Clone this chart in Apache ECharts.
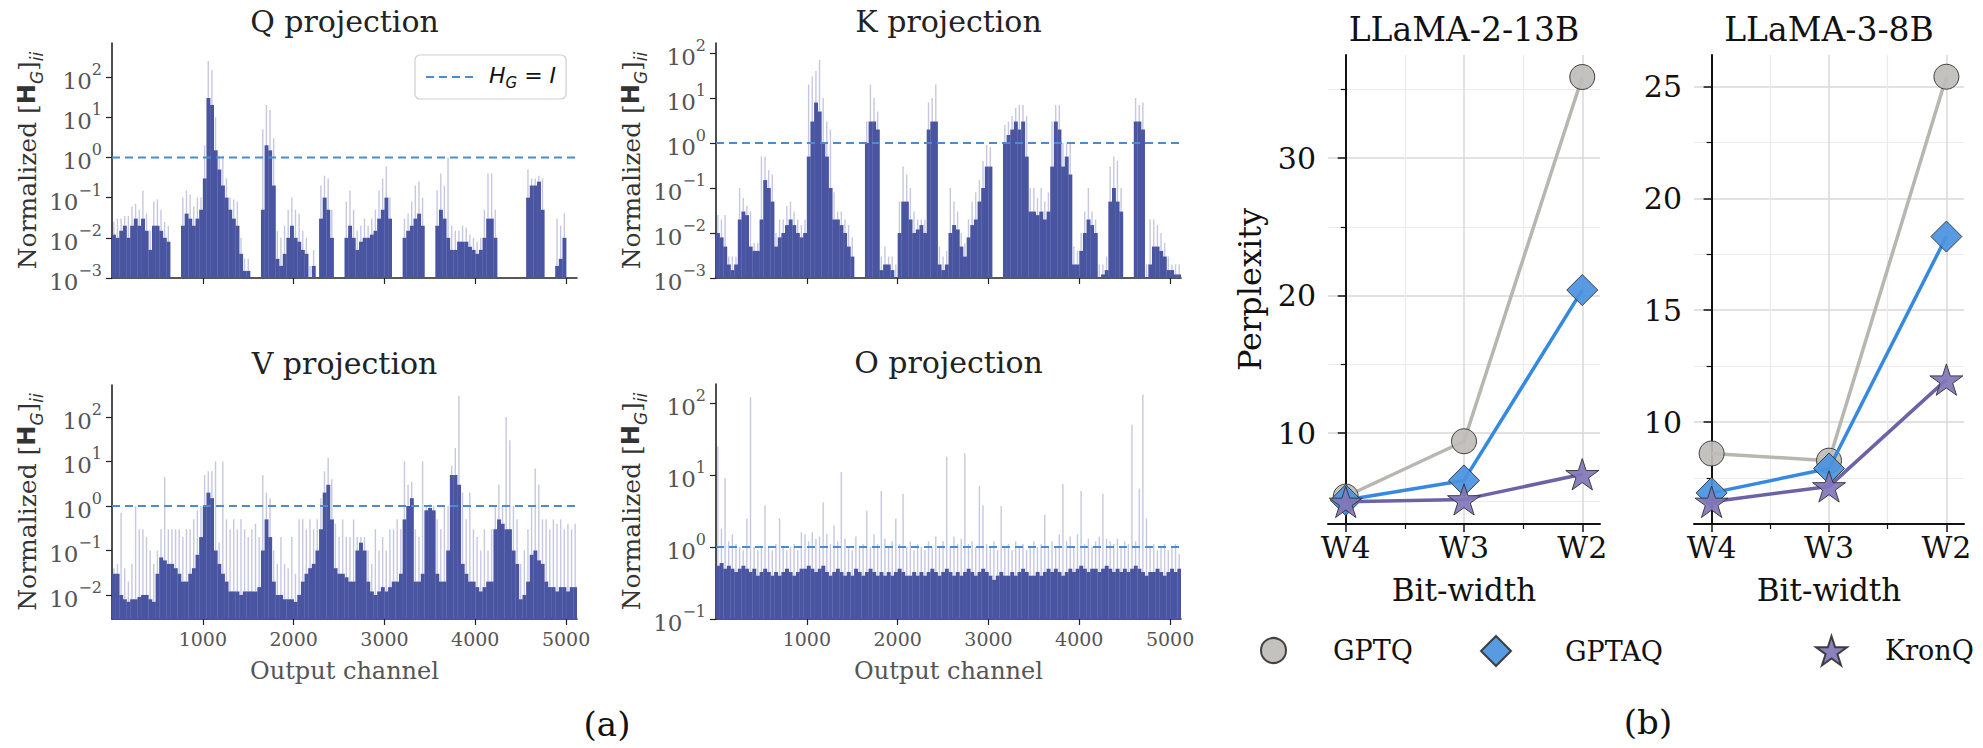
<!DOCTYPE html>
<html>
<head>
<meta charset="utf-8">
<title>Normalized H_G diagonal / perplexity</title>
<script src="https://cdn.jsdelivr.net/npm/echarts@6.0.0/dist/echarts.min.js"></script>
<style>
  html, body { margin: 0; padding: 0; background: #fff; }
  #main { width: 1983px; height: 748px; }
</style>
</head>
<body>
<div id="main"></div>
<script>
// every bar covers binWidth output channels (5120 channels -> 128 bars)
var binWidth = 40;

// dense level (body) and tallest spike (peak) per bar
var qBody = [
  0.012, 0.01, 0.015, 0.02, 0.01, 0.02, 0.03, 0.02, 0.03, 0.015,
  0.005, 0.02, 0.02, 0.015, 0.01, 0.008, 0, 0, 0, 0.02,
  0.04, 0.03, 0.02, 0.03, 0.05, 0.3, 30, 20, 1.5, 0.5,
  0.2, 0.1, 0.05, 0.03, 0.02, 0.004, 0.0015, 0.0015, 0, 0,
  0, 0.05, 2, 1.5, 0.2, 0.003, 0.002, 0.004, 0.01, 0.02,
  0.01, 0.008, 0.005, 0.004, 0, 0.002, 0, 0.03, 0.1, 0.05,
  0.01, 0, 0, 0, 0.01, 0.02, 0.01, 0.005, 0.008, 0.01,
  0.01, 0.012, 0.015, 0.03, 0.05, 0.1, 0.03, 0, 0, 0,
  0.01, 0.015, 0.02, 0.03, 0.04, 0.02, 0, 0, 0, 0.02,
  0.05, 0.03, 0.01, 0.005, 0.005, 0.008, 0.008, 0.008, 0.006, 0.005,
  0.004, 0.005, 0.01, 0.03, 0.03, 0.01, 0, 0, 0, 0,
  0, 0, 0, 0, 0.1, 0.2, 0.2, 0.25, 0.05, 0,
  0, 0, 0.002, 0.003, 0.01, 0, 0, 0
];
var qPeak = [
  0.025, 0.03, 0.03, 0.035, 0.035, 0.06, 0.07, 0.05, 0.15, 0.04,
  0.015, 0.08, 0.09, 0.05, 0.025, 0.02, 0, 0, 0, 0.1,
  0.15, 0.12, 0.06, 0.1, 0.1, 2, 250, 150, 10, 1.1,
  1.1, 0.3, 0.1, 0.09, 0.08, 0.01, 0.003, 0.003, 0, 0,
  0, 5, 20, 15, 3, 0.015, 0.01, 0.02, 0.05, 0.1,
  0.05, 0.04, 0.015, 0.01, 0.002, 0.005, 0, 0.2, 0.35, 0.3,
  0.05, 0, 0, 0, 0.08, 0.15, 0.05, 0.015, 0.02, 0.03,
  0.02, 0.03, 0.05, 0.15, 0.3, 0.6, 0.1, 0, 0, 0,
  0.03, 0.04, 0.08, 0.2, 0.25, 0.1, 0, 0, 0, 0.15,
  0.4, 0.2, 1.0, 0.02, 0.015, 0.015, 0.02, 0.018, 0.012, 0.01,
  0.008, 0.01, 0.05, 0.4, 0.4, 0.05, 0, 0, 0, 0,
  0, 0, 0, 0, 0.5, 0.3, 0.3, 0.35, 0.3, 0,
  0, 0, 0.03, 0.02, 0.04, 0, 0, 0
];
var kBody = [
  0.01, 0.008, 0.005, 0.002, 0.0015, 0.002, 0.02, 0.03, 0.025, 0.005,
  0.004, 0.004, 0.02, 0.15, 0.1, 0.05, 0.005, 0.008, 0.01, 0.015,
  0.02, 0.015, 0.01, 0.008, 0.01, 0.5, 3, 8, 5, 1,
  0.5, 0.1, 0.02, 0.02, 0.015, 0.01, 0.005, 0.003, 0, 0,
  0, 1, 3, 3, 2, 0.0015, 0.002, 0.002, 0.0015, 0,
  0.01, 0.05, 0.05, 0.02, 0.01, 0.012, 0.015, 0.01, 2, 3,
  3, 0.002, 0.0015, 0.002, 0.01, 0.015, 0.012, 0.005, 0.003, 0.008,
  0.015, 0.02, 0.05, 0.1, 0.3, 0.3, 0, 0, 0, 1,
  1.5, 2, 3, 2, 3, 0.5, 0.03, 0.03, 0.025, 0.03,
  0.02, 0.03, 0.3, 3, 2, 0.3, 0.5, 0.2, 0.002, 0.002,
  0.004, 0.01, 0.02, 0.015, 0.01, 0, 0.0012, 0.0015, 0.05, 0.1,
  0.05, 0.03, 0, 0, 0, 3, 3, 2, 0, 0.002,
  0.005, 0.005, 0.004, 0.003, 0.0015, 0.0015, 0.0012, 0.0012
];
var kPeak = [
  0.025, 0.02, 0.025, 0.003, 0.003, 0.003, 0.1, 0.06, 0.04, 0.03,
  0.006, 0.006, 0.5, 0.5, 0.25, 0.2, 0.01, 0.02, 0.02, 0.04,
  0.05, 0.03, 0.02, 0.015, 0.02, 20, 30, 40, 70, 10,
  3, 2, 0.08, 0.03, 0.03, 0.02, 0.015, 0.008, 0, 0,
  0, 3, 20, 10, 5, 0.003, 0.005, 0.003, 0.003, 0.002,
  0.05, 0.3, 0.2, 0.1, 0.03, 0.02, 0.02, 0.02, 8, 10,
  20, 0.005, 0.003, 0.004, 0.1, 0.05, 0.03, 0.01, 0.006, 0.02,
  0.05, 0.08, 0.15, 0.4, 0.9, 0.8, 0, 0, 0, 2.5,
  3, 4, 6, 7, 7, 4, 0.1, 0.1, 0.06, 0.1,
  0.05, 0.08, 3, 7, 7, 1, 1, 1, 0.005, 0.004,
  0.01, 0.03, 0.1, 0.03, 0.02, 0.002, 0.002, 0.003, 0.3, 0.5,
  0.4, 0.1, 0, 0, 0, 10, 7, 8, 0.002, 0.02,
  0.02, 0.015, 0.01, 0.006, 0.003, 0.002, 0.002, 0.002
];
var vBody = [
  0.03, 0.03, 0.01, 0.008, 0.007, 0.008, 0.008, 0.009, 0.01, 0.01,
  0.008, 0.007, 0.03, 0.07, 0.06, 0.05, 0.05, 0.04, 0.03, 0.02,
  0.02, 0.03, 0.04, 0.08, 0.2, 1, 2, 1.5, 0.1, 0.05,
  0.03, 0.02, 0.012, 0.012, 0.012, 0.01, 0.012, 0.012, 0.012, 0.012,
  0.015, 0.1, 0.5, 0.2, 0.02, 0.01, 0.01, 0.008, 0.008, 0.008,
  0.007, 0.01, 0.02, 0.03, 0.04, 0.05, 0.1, 0.3, 2, 3,
  0.5, 0.04, 0.03, 0.03, 0.025, 0.02, 0.02, 0.1, 0.15, 0.1,
  0.02, 0.012, 0.01, 0.012, 0.015, 0.012, 0.015, 0.02, 0.02, 0.03,
  0.5, 1, 1.5, 0.02, 0.02, 0.03, 0.8, 0.9, 0.8, 0.03,
  0.02, 0.02, 0.1, 5, 5, 3, 0.05, 0.03, 0.02, 0.02,
  0.015, 0.012, 0.015, 0.02, 0.02, 0.3, 0.5, 0.4, 0.3, 0.3,
  0.1, 0.05, 0.008, 0.01, 0.02, 0.08, 0.1, 0.06, 0.05, 0.02,
  0.015, 0.015, 0.012, 0.015, 0.015, 0.012, 0.015, 0.015
];
var vPeak = [
  0.04, 0.05, 0.7, 0.04, 0.02, 0.05, 1, 0.3, 0.3, 0.2,
  0.1, 0.05, 0.1, 0.3, 4.5, 0.3, 0.3, 0.3, 0.3, 0.2,
  0.3, 0.3, 0.5, 0.8, 1, 5, 6, 6, 10, 0.15,
  10, 0.5, 0.3, 0.5, 0.3, 0.5, 0.3, 0.2, 0.3, 0.4,
  0.2, 5, 2, 1.5, 0.1, 0.05, 0.2, 0.05, 0.04, 0.2,
  0.03, 0.5, 0.5, 0.3, 0.5, 0.3, 0.5, 1.5, 6, 12,
  4, 0.4, 0.2, 0.5, 0.2, 0.2, 0.5, 0.2, 0.2, 0.2,
  0.1, 0.05, 0.3, 0.1, 0.2, 0.1, 0.3, 0.3, 0.5, 0.3,
  10, 3, 3.5, 0.3, 0.2, 10, 1, 1.1, 1, 0.5,
  0.3, 1, 1, 8, 20, 300, 2, 0.5, 2, 0.3,
  0.2, 0.1, 0.3, 0.1, 0.3, 1, 3, 1, 100, 30,
  1, 0.5, 0.05, 0.1, 0.3, 1, 7, 3, 0.5, 0.5,
  0.3, 0.5, 0.4, 0.5, 0.3, 0.4, 0.3, 0.4
];
var oBody = [
  0.55, 0.6, 0.5, 0.55, 0.5, 0.45, 0.5, 0.55, 0.5, 0.45,
  0.5, 0.4, 0.45, 0.5, 0.45, 0.4, 0.45, 0.4, 0.45, 0.5,
  0.45, 0.4, 0.45, 0.5, 0.5, 0.55, 0.5, 0.45, 0.5, 0.55,
  0.45, 0.4, 0.45, 0.5, 0.45, 0.4, 0.45, 0.4, 0.5, 0.45,
  0.4, 0.45, 0.5, 0.45, 0.4, 0.45, 0.4, 0.45, 0.4, 0.45,
  0.5, 0.45, 0.4, 0.4, 0.45, 0.4, 0.45, 0.4, 0.45, 0.5,
  0.45, 0.4, 0.45, 0.5, 0.45, 0.4, 0.45, 0.4, 0.45, 0.5,
  0.45, 0.4, 0.45, 0.5, 0.45, 0.4, 0.35, 0.4, 0.45, 0.4,
  0.4, 0.45, 0.4, 0.45, 0.5, 0.45, 0.4, 0.4, 0.45, 0.4,
  0.45, 0.5, 0.45, 0.5, 0.45, 0.4, 0.45, 0.5, 0.45, 0.5,
  0.55, 0.5, 0.45, 0.5, 0.5, 0.45, 0.5, 0.55, 0.5, 0.45,
  0.5, 0.45, 0.5, 0.45, 0.5, 0.55, 0.5, 0.45, 0.4, 0.45,
  0.45, 0.5, 0.45, 0.4, 0.45, 0.5, 0.45, 0.5
];
var oPeak = [
  25, 1.8, 9, 1.2, 1.5, 1.1, 1.0, 0.9, 2.5, 120,
  1.0, 0.9, 1.0, 3.8, 1.0, 0.9, 1.1, 2.5, 1.0, 0.9,
  1.0, 1.1, 0.9, 1.6, 1.5, 1.2, 1.6, 1.3, 1.4, 4.2,
  1.5, 1.1, 2.0, 1.2, 11, 1.3, 1.0, 0.9, 1.4, 1.0,
  1.1, 3.2, 1.0, 1.5, 1.1, 6, 1.3, 1.0, 1.2, 2.5,
  1.1, 5.5, 1.0, 1.2, 0.9, 1.1, 1.0, 0.9, 1.2, 1.0,
  1.4, 1.0, 1.2, 18, 1.0, 1.4, 1.1, 1.3, 20, 1.1,
  1.2, 1.0, 7, 3.8, 1.1, 1.0, 1.2, 0.9, 3.7, 1.0,
  1.1, 0.9, 1.2, 1.0, 1.1, 0.9, 1.0, 1.2, 1.0, 1.1,
  2.8, 1.0, 1.2, 1.0, 1.5, 7.5, 1.2, 1.4, 1.0, 1.5,
  6, 1.1, 1.3, 1.0, 1.2, 1.4, 5.5, 1.3, 1.2, 1.1,
  1.3, 1.0, 1.2, 1.1, 50, 1.2, 6.5, 130, 2.5, 1.0,
  1.1, 0.9, 1.0, 1.1, 0.9, 1.0, 1.1, 0.8
];

// perplexity, right-hand panels
var bitWidths = ['W4', 'W3', 'W2'];
var llama2Gptq = [5.38, 9.4, 35.9];
var llama2Gptaq = [5.12, 6.55, 20.4];
var llama2Kronq = [4.99, 5.17, 7.0];
var llama3Gptq = [8.6, 8.28, 25.43];
var llama3Gptaq = [6.84, 7.93, 18.29];
var llama3Kronq = [6.44, 7.13, 11.9];

var SERIF = '"DejaVu Serif", serif';
var SANS = '"DejaVu Sans", sans-serif';
var BAR = '#4a55a2';
var BAR_LIGHT = 'rgba(74, 85, 162, 0.32)';
var STAR = 'path://M100,0L122.45,69.1L195.1,69.1L136.3,111.8L158.8,180.9L100,138.2L41.2,180.9L63.7,111.8L4.9,69.1L77.55,69.1Z';

var chart = echarts.init(document.getElementById('main'), null, { renderer: 'svg' });

var histPanels = [
  { name: 'Q projection', body: qBody, peak: qPeak, grid: { left: 112, top: 43, width: 465, height: 235 }, min: 1e-3, max: 700, ticks: [1e-3, 1e-2, 1e-1, 1, 10, 100], bottom: false },
  { name: 'K projection', body: kBody, peak: kPeak, grid: { left: 716, top: 43, width: 465, height: 235 }, min: 1e-3, max: 167, ticks: [1e-3, 1e-2, 1e-1, 1, 10, 100], bottom: false },
  { name: 'V projection', body: vBody, peak: vPeak, grid: { left: 112, top: 385, width: 465, height: 234 }, min: 0.00288, max: 524, ticks: [1e-2, 1e-1, 1, 10, 100], bottom: true },
  { name: 'O projection', body: oBody, peak: oPeak, grid: { left: 716, top: 384, width: 465, height: 235 }, min: 0.1, max: 184, ticks: [1e-1, 1, 10, 100], bottom: true }
];

function powLabel(v) {
  var e = Math.round(Math.log10(v));
  return '{b|10}{s|' + (e < 0 ? '\u2212' + (-e) : e) + '}';
}

function histSeries(p, idx) {
  var data = p.body.map(function (v, i) {
    return [i * binWidth, (i + 1) * binWidth, v, p.peak[i]];
  });
  return {
    type: 'custom',
    xAxisIndex: idx,
    yAxisIndex: idx,
    silent: true,
    clip: true,
    encode: { x: [0, 1], y: [2, 3] },
    data: data,
    renderItem: function (params, api) {
      var x0 = api.value(0), x1 = api.value(1), v = api.value(2), pk = api.value(3);
      var cs = params.coordSys;
      var base = cs.y + cs.height;
      var left = api.coord([x0, p.min])[0];
      var right = api.coord([x1, p.min])[0];
      var kids = [];
      var topBody = base;
      if (v > p.min) {
        topBody = Math.max(cs.y, api.coord([x0, v])[1]);
        kids.push({ type: 'rect', shape: { x: left, y: topBody, width: right - left + 0.3, height: base - topBody }, style: { fill: BAR } });
      }
      if (pk > p.min && pk > v) {
        var topPk = Math.max(cs.y, api.coord([x0, pk])[1]);
        var mid = (left + right) / 2;
        kids.push({ type: 'rect', shape: { x: mid - 0.7, y: topPk, width: 1.4, height: topBody - topPk }, style: { fill: BAR_LIGHT } });
      }
      return { type: 'group', children: kids };
    }
  };
}

var grids = [], xAxes = [], yAxes = [], series = [], graphics = [];

histPanels.forEach(function (p, i) {
  grids.push(p.grid);
  xAxes.push({
    type: 'value', gridIndex: i, min: 0, max: 5120, interval: 1000,
    axisLine: { lineStyle: { color: '#222', width: 1.6 } },
    axisTick: { show: true, length: 6, customValues: [1000, 2000, 3000, 4000, 5000], lineStyle: { color: '#222', width: 1.2 } },
    axisLabel: {
      show: p.bottom, customValues: [1000, 2000, 3000, 4000, 5000],
      formatter: function (v) { return String(v); },
      color: '#555', fontSize: 19, fontFamily: SERIF, margin: 10
    },
    splitLine: { show: false },
    name: p.bottom ? 'Output channel' : '',
    nameLocation: 'middle', nameGap: 40,
    nameTextStyle: { color: '#555', fontSize: 24, fontFamily: SERIF }
  });
  yAxes.push({
    type: 'log', gridIndex: i, min: p.min, max: p.max,
    axisLine: { show: true, lineStyle: { color: '#222', width: 1.6 } },
    axisTick: { show: true, length: 6, customValues: p.ticks, lineStyle: { color: '#222', width: 1.2 } },
    axisLabel: {
      customValues: p.ticks, formatter: powLabel, margin: 10,
      rich: {
        b: { fontSize: 23, fontFamily: SERIF, color: '#555', lineHeight: 31, verticalAlign: 'bottom' },
        s: { fontSize: 16, fontFamily: SERIF, color: '#555', lineHeight: 14, verticalAlign: 'top' }
      }
    },
    splitLine: { show: false },
    name: '{n|Normalized [}{h|H}{g|G}{n|]}{g|ii}',
    nameLocation: 'middle', nameGap: 60, nameRotate: 90,
    nameTextStyle: {
      rich: {
        n: { fontSize: 25, fontFamily: SERIF, color: '#333', lineHeight: 30, verticalAlign: 'top' },
        h: { fontSize: 24, fontFamily: SANS, fontWeight: 'bold', color: '#333', lineHeight: 30, verticalAlign: 'top' },
        g: { fontSize: 17, fontFamily: SANS, fontStyle: 'italic', color: '#333', lineHeight: 16, verticalAlign: 'bottom' }
      }
    }
  });
  series.push(histSeries(p, i));
  series.push({
    name: 'HG', type: 'line', xAxisIndex: i, yAxisIndex: i,
    data: [[0, 1], [5120, 1]], symbol: 'none', silent: true, z: 5,
    lineStyle: { color: '#4b8bcf', width: 2, type: [8, 5] }
  });
  graphics.push({
    type: 'text', x: p.grid.left + p.grid.width / 2, y: p.grid.top - 22,
    style: { text: p.name, font: '30px ' + SERIF, fill: '#222', textAlign: 'center', textVerticalAlign: 'middle', align: 'center', verticalAlign: 'middle' }
  });
});

var perfPanels = [
  { name: 'LLaMA-2-13B', grid: { left: 1328, top: 55, width: 272, height: 469 }, min: 3.38, max: 37.5, split: 3, ticks: [10, 20, 30], ylabel: 'Perplexity',
    lines: [llama2Gptq, llama2Gptaq, llama2Kronq] },
  { name: 'LLaMA-3-8B', grid: { left: 1694, top: 55, width: 270, height: 469 }, min: 5.45, max: 26.4, split: 4, ticks: [10, 15, 20, 25], ylabel: '',
    lines: [llama3Gptq, llama3Gptaq, llama3Kronq] }
];

var methods = [
  { name: 'GPTQ', symbol: 'circle', size: 25, fill: '#bfbdb8', line: '#b8b6b0' },
  { name: 'GPTAQ', symbol: 'diamond', size: 31, fill: '#4a92e0', line: '#3589e0' },
  { name: 'KronQ', symbol: STAR, size: 33, fill: '#8176b8', line: '#6c63a6' }
];

perfPanels.forEach(function (p, j) {
  var i = 4 + j;
  grids.push(p.grid);
  xAxes.push({
    type: 'value', gridIndex: i, min: -0.15, max: 2.15, splitNumber: 2,
    axisLine: { lineStyle: { color: '#111', width: 2 } },
    axisTick: { show: true, length: 8, customValues: [0, 1, 2], lineStyle: { color: '#111', width: 1.5 } },
    minorTick: { show: true, splitNumber: 2, length: 5, lineStyle: { color: '#111', width: 1.2 } },
    axisLabel: { customValues: [0, 1, 2], formatter: function (v) { return bitWidths[Math.round(v)] || ''; }, color: '#111', fontSize: 30, fontFamily: SERIF, margin: 8 },
    splitLine: { show: true, lineStyle: { color: '#d9d9d9', width: 1.5 } },
    minorSplitLine: { show: true, lineStyle: { color: '#ebebeb', width: 1.2 } },
    name: 'Bit-width', nameLocation: 'middle', nameGap: 50,
    nameTextStyle: { color: '#111', fontSize: 31, fontFamily: SERIF }
  });
  yAxes.push({
    type: 'value', gridIndex: i, min: p.min, max: p.max, splitNumber: p.split,
    axisLine: { show: true, lineStyle: { color: '#111', width: 2 } },
    axisTick: { show: true, length: 8, customValues: p.ticks, lineStyle: { color: '#111', width: 1.5 } },
    minorTick: { show: true, splitNumber: 2, length: 5, lineStyle: { color: '#111', width: 1.2 } },
    axisLabel: { customValues: p.ticks, color: '#111', fontSize: 30, fontFamily: SERIF, margin: 12 },
    splitLine: { show: true, lineStyle: { color: '#d9d9d9', width: 1.5 } },
    minorSplitLine: { show: true, lineStyle: { color: '#ebebeb', width: 1.2 } },
    name: p.ylabel, nameLocation: 'middle', nameGap: 62,
    nameTextStyle: { color: '#111', fontSize: 32, fontFamily: SERIF }
  });
  methods.forEach(function (m, k) {
    series.push({
      name: m.name, type: 'line', xAxisIndex: i, yAxisIndex: i,
      data: p.lines[k].map(function (v, t) { return [t, v]; }),
      symbol: m.symbol, symbolSize: m.size, symbolKeepAspect: true,
      lineStyle: { color: m.line, width: 3.5 },
      itemStyle: { color: m.fill, borderColor: '#333', borderWidth: 1, opacity: 0.92 },
      z: 3 + k
    });
  });
  graphics.push({
    type: 'text', x: p.grid.left + p.grid.width / 2, y: 29,
    style: { text: p.name, font: '33px ' + SERIF, fill: '#111', textAlign: 'center', textVerticalAlign: 'middle', align: 'center', verticalAlign: 'middle' }
  });
});

graphics.push({
  type: 'text', x: 607, y: 724,
  style: { text: '(a)', font: '34px ' + SERIF, fill: '#111', textAlign: 'center', textVerticalAlign: 'middle', align: 'center', verticalAlign: 'middle' }
});
graphics.push({
  type: 'text', x: 1648, y: 722,
  style: { text: '(b)', font: '34px ' + SERIF, fill: '#111', textAlign: 'center', textVerticalAlign: 'middle', align: 'center', verticalAlign: 'middle' }
});

var legendText = { color: '#111', fontSize: 27, fontFamily: SERIF };

chart.setOption({
  animation: false,
  backgroundColor: '#fff',
  grid: grids,
  xAxis: xAxes,
  yAxis: yAxes,
  legend: [
    {
      data: ['HG'], left: 415, top: 55, orient: 'horizontal',
      padding: [9, 10, 9, 10], itemWidth: 48, itemHeight: 14,
      backgroundColor: '#fff', borderColor: '#cfcfcf', borderWidth: 1.2, borderRadius: 5,
      selectedMode: false,
      itemStyle: { opacity: 0 },
      formatter: function () { return '{i|H}{s|G}{e| = }{i|I}'; },
      textStyle: {
        padding: [0, 0, 0, 10],
        rich: {
          i: { fontSize: 22, fontFamily: SANS, fontStyle: 'italic', color: '#111', lineHeight: 26, verticalAlign: 'top' },
          s: { fontSize: 15, fontFamily: SANS, fontStyle: 'italic', color: '#111', lineHeight: 14, verticalAlign: 'bottom' },
          e: { fontSize: 22, fontFamily: SANS, color: '#111', lineHeight: 26, verticalAlign: 'top' }
        }
      }
    },
    { data: ['GPTQ'], left: 1260, top: 637, padding: 0, icon: 'circle', itemWidth: 25, itemHeight: 25, selectedMode: false, textStyle: Object.assign({ padding: [0, 0, 0, 42] }, legendText) },
    { data: ['GPTAQ'], left: 1480, top: 635, padding: 0, icon: 'diamond', itemWidth: 30, itemHeight: 30, selectedMode: false, textStyle: Object.assign({ padding: [0, 0, 0, 49] }, legendText) },
    { data: ['KronQ'], left: 1815, top: 635, padding: 0, icon: STAR, itemWidth: 31, itemHeight: 30, selectedMode: false, textStyle: Object.assign({ padding: [0, 0, 0, 33] }, legendText) }
  ],
  graphic: graphics,
  series: series
});
</script>
</body>
</html>
